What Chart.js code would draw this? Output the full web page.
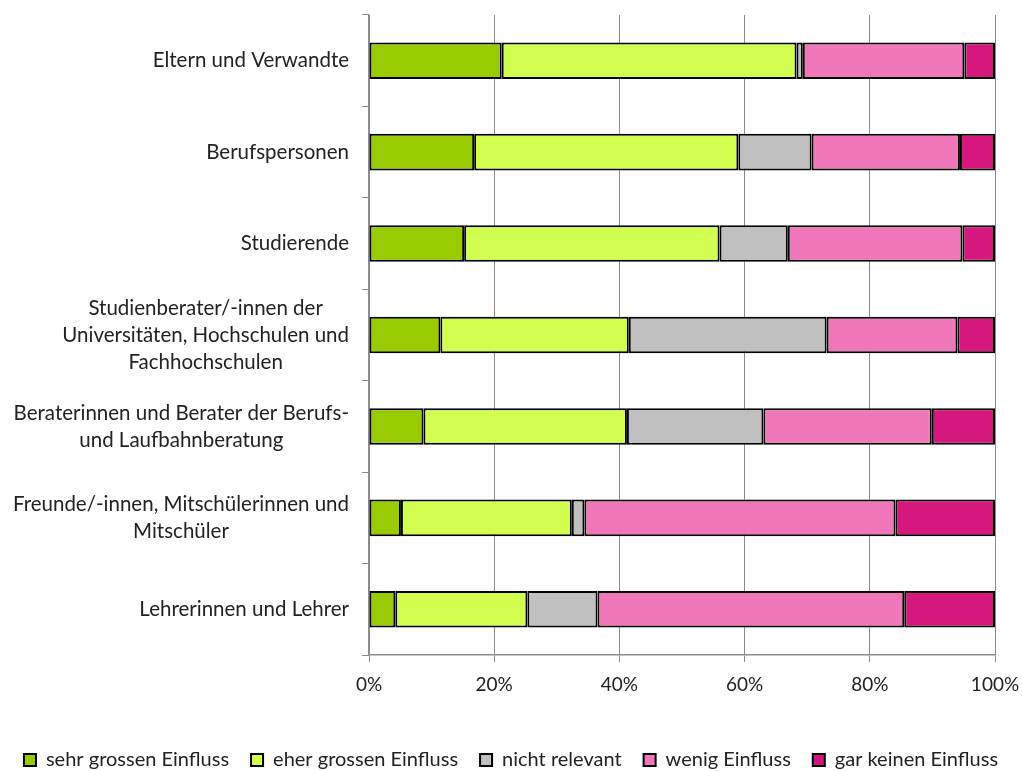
<!DOCTYPE html>
<html>
<head>
<meta charset="utf-8">
<script src="https://cdn.jsdelivr.net/npm/chart.js@4"></script>
<style>
  html, body { margin: 0; padding: 0; background: #fff; }
  #wrap { width: 1022px; height: 771px; }
</style>
</head>
<body>
<div id="wrap"><canvas id="chart" width="1022" height="771"></canvas></div>
<script>
const categories = [
  'Eltern und Verwandte',
  'Berufspersonen',
  'Studierende',
  ['Studienberater/-innen der', 'Universitäten, Hochschulen und', 'Fachhochschulen'],
  ['Beraterinnen und Berater der Berufs-', 'und Laufbahnberatung'],
  ['Freunde/-innen, Mitschülerinnen und', 'Mitschüler'],
  'Lehrerinnen und Lehrer'
];

const seriesNames = ['sehr grossen Einfluss', 'eher grossen Einfluss', 'nicht relevant', 'wenig Einfluss', 'gar keinen Einfluss'];

const sehrGross = [21.2, 16.8, 15.2, 11.4, 8.7, 5.1, 4.2];
const eherGross = [47.1, 42.2, 40.8, 30.1, 32.5, 27.3, 21.1];
const nichtRelevant = [1.0, 11.7, 10.9, 31.6, 21.8, 2.0, 11.2];
const wenig = [25.8, 23.7, 27.9, 20.9, 26.9, 49.7, 49.0];
const garKeinen = [4.9, 5.6, 5.2, 6.0, 10.1, 15.9, 14.5];

const xTicks = [0, 20, 40, 60, 80, 100];

const colors = ['#99cc00', '#d2ff4f', '#c0c0c0', '#f077ba', '#d6187e'];
const FONT = 'Lato, "DejaVu Sans", sans-serif';

// y labels: block right-aligned, lines centred inside the block
const yLabelPlugin = {
  id: 'yLabels',
  afterDraw(chart) {
    const ctx = chart.ctx;
    const y = chart.scales.y;
    ctx.save();
    ctx.font = '20.5px ' + FONT;
    ctx.fillStyle = '#222';
    ctx.textAlign = 'center';
    ctx.textBaseline = 'middle';
    categories.forEach((lab, i) => {
      const lines = Array.isArray(lab) ? lab : [lab];
      const w = Math.max(...lines.map(l => ctx.measureText(l).width));
      const cx = y.right - 20 - w / 2;
      const cy = y.getPixelForValue(i);
      lines.forEach((l, j) => {
        ctx.fillText(l, cx, cy + (j - (lines.length - 1) / 2) * 27);
      });
    });
    ctx.restore();
  }
};

const datasets = [sehrGross, eherGross, nichtRelevant, wenig, garKeinen].map((d, i) => ({
  label: seriesNames[i],
  data: d,
  backgroundColor: colors[i],
  borderColor: '#000',
  borderWidth: 2,
  borderSkipped: false,
  barPercentage: 0.4,
  categoryPercentage: 1.0
}));

const chart = new Chart(document.getElementById('chart').getContext('2d'), {
  type: 'bar',
  data: { labels: categories.map((c, i) => i), datasets: datasets },
  options: {
    indexAxis: 'y',
    responsive: false,
    animation: false,
    layout: { padding: { top: 15, right: 0, left: 0, bottom: 0 } },
    scales: {
      x: {
        stacked: true,
        min: 0,
        max: 100,
        afterBuildTicks: (s) => { s.ticks = xTicks.map(v => ({ value: v })); },
        afterFit: (s) => { s.height = 73; s.paddingRight = 27; s.paddingLeft = 0; },
        ticks: {
          callback: (v) => v + '%',
          color: '#222',
          font: { family: FONT, size: 19 },
          padding: 11
        },
        grid: { color: '#8c8c8c', lineWidth: 1, tickLength: 7 },
        border: { color: '#8c8c8c', width: 1.5 }
      },
      y: {
        stacked: true,
        afterFit: (s) => { s.width = 369; },
        ticks: { display: false },
        grid: { drawOnChartArea: false, color: '#8c8c8c', tickLength: 7, offset: true },
        border: { color: '#8c8c8c', width: 1.5 }
      }
    },
    plugins: {
      legend: {
        position: 'bottom',
        maxHeight: 43,
        labels: {
          boxWidth: 12,
          boxHeight: 12,
          padding: 22,
          color: '#222',
          font: { family: FONT, size: 20 }
        }
      },
      tooltip: { enabled: false }
    }
  },
  plugins: [yLabelPlugin]
});
</script>
</body>
</html>
